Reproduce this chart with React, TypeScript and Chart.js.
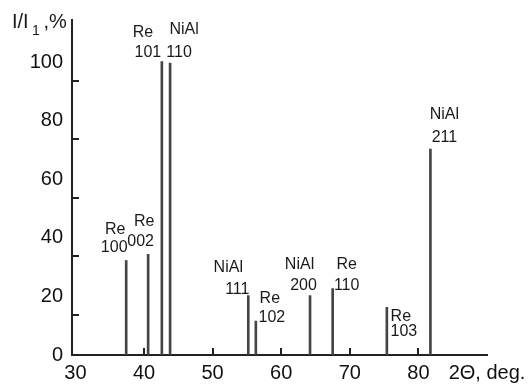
import React, { useEffect, useRef } from 'react';
import { Chart, registerables } from 'chart.js';

Chart.register(...registerables);

// ---- data ----
const peakAngles = [37.4, 40.6, 42.6, 43.8, 55.2, 56.3, 64.2, 67.5, 75.4, 81.75];
const peakIntensities = [32.3, 34.4, 100.3, 99.8, 20.3, 11.6, 20.3, 22.7, 16.3, 70.4];
const peakPhases = ['Re', 'Re', 'Re', 'NiAl', 'NiAl', 'Re', 'NiAl', 'Re', 'Re', 'NiAl'];
const peakIndices = ['100', '002', '101', '110', '111', '102', '200', '110', '103', '211'];
const xTickValues = [30, 40, 50, 60, 70, 80, 90];
const xAxisName = '2\u0398, deg.';
const yTickValues = [0, 20, 40, 60, 80, 100];
const yMarkValues = [13.8, 33.8, 53.8, 73.8, 93.8];
const yAxisName = ['I/I', '1', ' ,%'];

// ---- layout (pixel offsets of label lines from each peak top) ----
const labelOffsets = [
  [-11, -31, -12, -13],
  [-4, -33, -7.5, -13],
  [-19, -29, -14, -9],
  [14, -33, 9, -10],
  [-20, -28, -11, -6],
  [14, -22, 16, -3],
  [-10.5, -31, -6.5, -10],
  [14, -24, 14, -3],
  [14, 9, 17, 24],
  [14, -34, 14, -11],
];

const FONT = '"Liberation Sans", Arial, Helvetica, sans-serif';
const AXIS = '#222';

const peakLabelPlugin = {
  id: 'peakLabels',
  afterDatasetsDraw(chart: any) {
    const ctx = chart.ctx;
    const meta = chart.getDatasetMeta(0);
    ctx.save();
    ctx.fillStyle = '#1a1a1a';
    ctx.font = `16px ${FONT}`;
    ctx.textAlign = 'center';
    ctx.textBaseline = 'middle';
    meta.data.forEach((bar: any, i: number) => {
      const o = labelOffsets[i];
      ctx.fillText(peakPhases[i], bar.x + o[0], bar.y + o[1]);
      ctx.fillText(peakIndices[i], bar.x + o[2], bar.y + o[3]);
    });
    // y-axis name at the top-left
    const left = chart.chartArea.left;
    const top = chart.chartArea.top;
    ctx.textAlign = 'left';
    ctx.textBaseline = 'alphabetic';
    ctx.font = `20px ${FONT}`;
    ctx.fillText(yAxisName[0], left - 60, top + 8);
    ctx.font = `14px ${FONT}`;
    ctx.fillText(yAxisName[1], left - 40, top + 15);
    ctx.font = `20px ${FONT}`;
    ctx.fillText(yAxisName[2], left - 34, top + 8);
    ctx.restore();
  },
};

export default function App() {
  const ref = useRef<HTMLCanvasElement>(null);

  useEffect(() => {
    if (!ref.current) return;
    const chart = new Chart(ref.current, {
      type: 'bar',
      data: {
        datasets: [
          {
            data: peakAngles.map((x, i) => ({ x, y: peakIntensities[i] })),
            backgroundColor: '#454545',
            borderWidth: 0,
            barThickness: 2,
          } as any,
        ],
      },
      options: {
        animation: false,
        responsive: false,
        layout: { padding: { top: 20, right: 44, left: 0, bottom: 0 } },
        plugins: { legend: { display: false }, tooltip: { enabled: false } },
        scales: {
          x: {
            type: 'linear',
            min: 29.5,
            max: 90,
            offset: false,
            afterBuildTicks: (s: any) => {
              s.ticks = xTickValues.map((v) => ({ value: v }));
            },
            afterFit: (s: any) => {
              s.height = 30;
              s.paddingLeft = 0;
              s.paddingRight = 0;
            },
            ticks: {
              autoSkip: false,
              maxRotation: 0,
              padding: 13,
              color: '#111',
              font: { family: FONT, size: 20 },
              callback: (v: any) => (v === 90 ? xAxisName : String(v)),
            },
            grid: {
              offset: false,
              drawOnChartArea: false,
              tickLength: -7,
              lineWidth: 2,
              color: (c: any) => {
                const v = c.tick ? c.tick.value : 0;
                return v > 30 && v < 90 ? AXIS : 'rgba(0,0,0,0)';
              },
            },
            border: { display: true, width: 2, color: AXIS },
          } as any,
          y: {
            type: 'linear',
            position: 'left',
            weight: 1,
            min: 0,
            max: 114.5,
            afterBuildTicks: (s: any) => {
              s.ticks = yTickValues.map((v) => ({ value: v }));
            },
            afterFit: (s: any) => {
              s.width = 72;
              s.paddingTop = 0;
              s.paddingBottom = 0;
            },
            ticks: {
              padding: 9,
              color: '#111',
              font: { family: FONT, size: 20 },
            },
            grid: { drawOnChartArea: false, drawTicks: false },
            border: { display: true, width: 2, color: AXIS },
          } as any,
          yMarks: {
            type: 'linear',
            position: 'left',
            weight: 0,
            min: 0,
            max: 114.5,
            afterBuildTicks: (s: any) => {
              s.ticks = yMarkValues.map((v) => ({ value: v }));
            },
            afterFit: (s: any) => {
              s.width = 0;
              s.paddingTop = 0;
              s.paddingBottom = 0;
            },
            ticks: { display: false },
            grid: { drawOnChartArea: false, tickLength: -7, lineWidth: 2, color: AXIS },
            border: { display: false },
          } as any,
        },
      },
      plugins: [peakLabelPlugin],
    });
    return () => chart.destroy();
  }, []);

  return (
    <div style={{ position: 'fixed', left: 0, top: 0, width: 531, height: 385, background: '#fff' }}>
      <canvas ref={ref} width={531} height={385} style={{ display: 'block' }} />
    </div>
  );
}
